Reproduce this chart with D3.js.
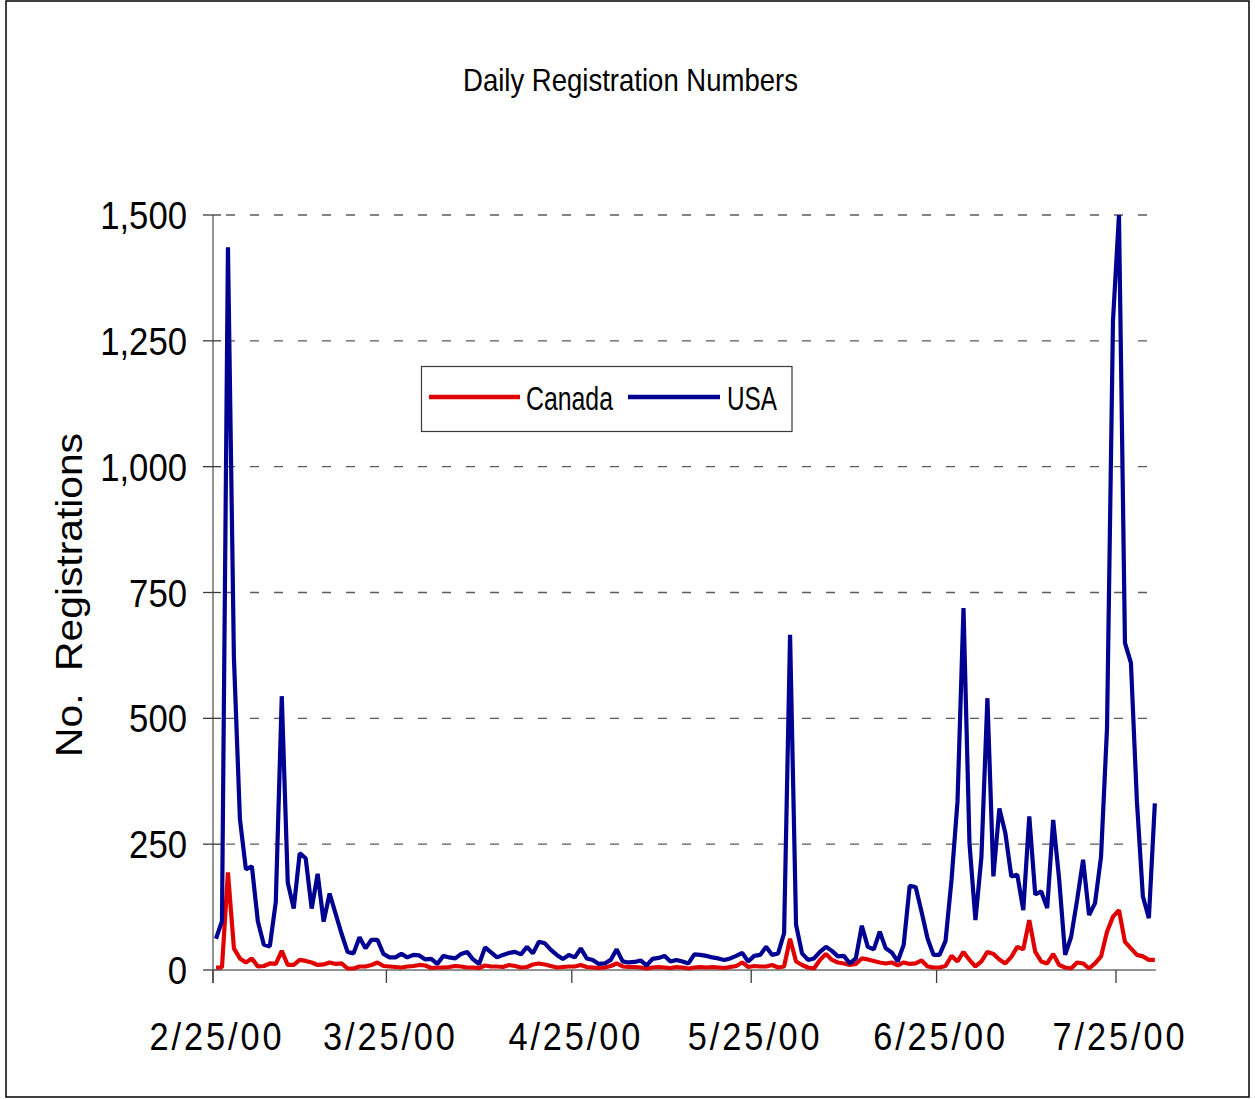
<!DOCTYPE html>
<html>
<head>
<meta charset="utf-8">
<script src="https://cdn.jsdelivr.net/npm/d3@7"></script>
<style>
  html, body { margin: 0; padding: 0; background: #ffffff; }
  svg { display: block; }
  text { font-family: "Liberation Sans", Arial, sans-serif; fill: #000; }
</style>
</head>
<body>
<svg id="chart" width="1255" height="1099"></svg>
<script>
// ---------------- DATA ----------------
const startDate = "2000-02-25";           // first daily category
const seriesNames = ["Canada", "USA"];
const seriesColors = ["#e10000", "#000091"];

const canada = [
  5, 5, 194, 43, 23, 15, 23, 7, 8, 13,
  12, 38, 10, 10, 20, 18, 15, 10, 11, 15,
  12, 13, 3, 3, 7, 7, 10, 15, 8, 7,
  6, 5, 7, 8, 10, 9, 4, 5, 5, 6,
  8, 7, 5, 5, 4, 9, 7, 7, 6, 10,
  8, 5, 6, 11, 13, 11, 8, 5, 6, 7,
  7, 10, 6, 5, 4, 5, 8, 13, 7, 6,
  6, 5, 3, 5, 6, 5, 4, 6, 5, 3,
  5, 6, 5, 6, 5, 4, 6, 8, 15, 6,
  8, 7, 7, 10, 5, 7, 62, 17, 10, 5,
  3, 20, 32, 20, 15, 13, 10, 12, 23, 21,
  18, 15, 13, 15, 9, 15, 12, 13, 19, 7,
  5, 5, 8, 28, 17, 36, 20, 7, 17, 36,
  32, 21, 13, 26, 46, 41, 99, 36, 17, 13,
  32, 10, 5, 3, 15, 13, 3, 13, 27, 76,
  106, 119, 56, 43, 30, 27, 20, 20
];

const usa = [
  62, 97, 1436, 620, 300, 200, 206, 97, 50, 47,
  135, 544, 174, 122, 232, 222, 122, 191, 96, 152,
  112, 72, 36, 33, 65, 43, 60, 60, 32, 25,
  25, 32, 25, 30, 29, 21, 22, 12, 28, 25,
  23, 32, 36, 21, 12, 45, 35, 25, 30, 34,
  36, 31, 46, 33, 56, 53, 40, 30, 22, 30,
  25, 43, 23, 20, 12, 13, 20, 41, 17, 15,
  16, 19, 9, 22, 24, 28, 17, 20, 17, 13,
  31, 30, 28, 25, 23, 20, 23, 28, 34, 17,
  28, 30, 46, 30, 33, 73, 666, 90, 33, 20,
  23, 36, 46, 38, 27, 28, 13, 23, 88, 46,
  41, 76, 43, 35, 17, 50, 167, 165, 115, 62,
  30, 30, 58, 179, 335, 719, 252, 99, 225, 540,
  186, 321, 272, 186, 189, 119, 305, 150, 156, 123,
  298, 180, 30, 66, 139, 219, 109, 133, 225, 480,
  1290, 1500, 650, 610, 335, 146, 103, 331
];

const xTickDates  = ["2000-02-25", "2000-03-25", "2000-04-25", "2000-05-25", "2000-06-25", "2000-07-25"];
const xTickLabels = ["2/25/00", "3/25/00", "4/25/00", "5/25/00", "6/25/00", "7/25/00"];
const yTickValues = [0, 250, 500, 750, 1000, 1250, 1500];

const titleText = "Daily Registration Numbers";
const yTitleText = "No.  Registrations";

// ---------------- LAYOUT ----------------
const svg = d3.select("#chart");
const parseDay = s => new Date(s + "T00:00:00Z");
const DAY = 864e5;
const start = parseDay(startDate);
const categories = d3.range(usa.length).map(i => new Date(+start + i * DAY));

const x = d3.scaleUtc()
  .domain([start, new Date(+start + 158 * DAY)])
  .range([213, 213 + 158 * 5.98]);
const y = d3.scaleLinear().domain([0, 1500]).range([970, 215]);
// points sit in the middle of each day cell
const px = d => x(new Date(+d + DAY / 2));

// outer frame
svg.append("rect")
  .attr("x", 6).attr("y", 1).attr("width", 1243).attr("height", 1096)
  .attr("fill", "#fff").attr("stroke", "#000").attr("stroke-width", 1.5);

// title
svg.append("text")
  .attr("x", 630.5).attr("y", 91)
  .attr("text-anchor", "middle")
  .attr("font-size", 32)
  .attr("textLength", 335).attr("lengthAdjust", "spacingAndGlyphs")
  .text(titleText);

// gridlines (dashed)
const xMax = x.range()[1] - 2;
svg.append("g").selectAll("line")
  .data(yTickValues.filter(v => v > 0))
  .join("line")
  .attr("x1", 221).attr("x2", xMax)
  .attr("y1", d => y(d)).attr("y2", d => y(d))
  .attr("stroke", "#5a5a5a").attr("stroke-width", 1.4)
  .attr("stroke-dasharray", "9,15")
  .attr("stroke-dashoffset", -5);

// y axis
const yAxisG = svg.append("g");
yAxisG.append("line")
  .attr("x1", 213).attr("x2", 213)
  .attr("y1", y(1500)).attr("y2", 983)
  .attr("stroke", "#6e6e6e").attr("stroke-width", 1.5);
yAxisG.selectAll("line.tick")
  .data(yTickValues)
  .join("line").attr("class", "tick")
  .attr("x1", 203).attr("x2", 221)
  .attr("y1", d => y(d)).attr("y2", d => y(d))
  .attr("stroke", "#3c3c3c").attr("stroke-width", 1.3);
const fmt = d3.format(",");
yAxisG.selectAll("text")
  .data(yTickValues)
  .join("text")
  .attr("text-anchor", "end")
  .attr("font-size", 39)
  .attr("transform", d => `translate(187,${y(d) + 14}) scale(0.89,1)`)
  .text(d => fmt(d));

// x axis
const xAxisG = svg.append("g");
xAxisG.append("line")
  .attr("x1", 213).attr("x2", xMax)
  .attr("y1", 970).attr("y2", 970)
  .attr("stroke", "#6e6e6e").attr("stroke-width", 1.5);
const xTicks = xTickDates.map(parseDay);
xAxisG.selectAll("line.tick")
  .data(xTicks)
  .join("line").attr("class", "tick")
  .attr("x1", d => x(d)).attr("x2", d => x(d))
  .attr("y1", 970).attr("y2", 983)
  .attr("stroke", "#3c3c3c").attr("stroke-width", 1.3);
xAxisG.selectAll("text")
  .data(xTicks)
  .join("text")
  .attr("text-anchor", "middle")
  .attr("font-size", 39)
  .attr("letter-spacing", 3.3)
  .attr("transform", d => `translate(${x(d) + 4},1050) scale(0.88,1)`)
  .text((d, i) => xTickLabels[i]);

// y title
svg.append("text")
  .attr("transform", "translate(82,595) rotate(-90)")
  .attr("text-anchor", "middle")
  .attr("font-size", 37)
  .attr("textLength", 324).attr("lengthAdjust", "spacingAndGlyphs")
  .style("white-space", "pre")
  .text(yTitleText);

// series lines
const line = d3.line()
  .x((d, i) => px(categories[i]))
  .y(d => y(d));
[canada, usa].forEach((vals, k) => {
  svg.append("path")
    .datum(vals)
    .attr("d", line)
    .attr("fill", "none")
    .attr("stroke", seriesColors[k])
    .attr("stroke-width", 4.2)
    .attr("stroke-linejoin", "bevel");
});

// legend
const lg = svg.append("g");
lg.append("rect")
  .attr("x", 421.5).attr("y", 366.5).attr("width", 370.5).attr("height", 65)
  .attr("fill", "#fff").attr("stroke", "#3a3a3a").attr("stroke-width", 1.2);
const legendItems = [
  { name: seriesNames[0], color: seriesColors[0], x1: 429, x2: 520, tx: 526, tl: 87 },
  { name: seriesNames[1], color: seriesColors[1], x1: 628, x2: 720, tx: 727, tl: 50 }
];
legendItems.forEach(it => {
  lg.append("line")
    .attr("x1", it.x1).attr("x2", it.x2)
    .attr("y1", 397).attr("y2", 397)
    .attr("stroke", it.color).attr("stroke-width", 4.6);
  lg.append("text")
    .attr("x", it.tx).attr("y", 410)
    .attr("font-size", 34)
    .attr("textLength", it.tl).attr("lengthAdjust", "spacingAndGlyphs")
    .text(it.name);
});
</script>
</body>
</html>
